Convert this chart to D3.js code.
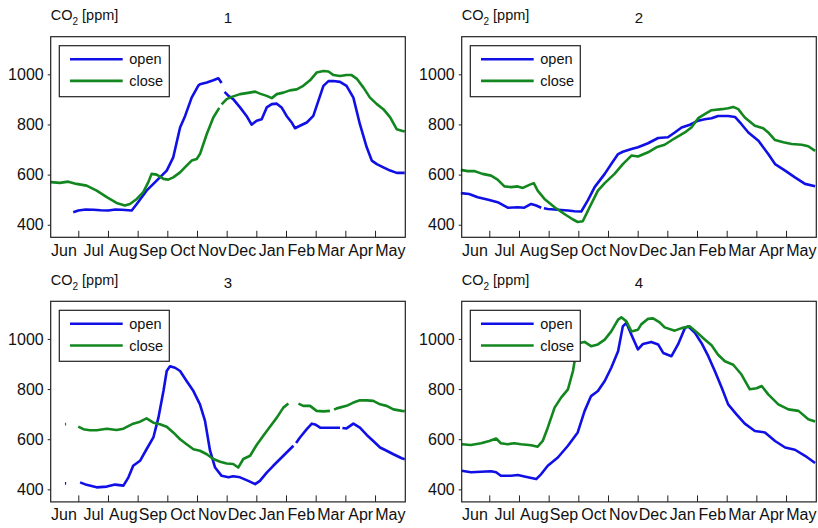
<!DOCTYPE html>
<html>
<head>
<meta charset="utf-8">
<script src="https://cdn.jsdelivr.net/npm/d3@7/dist/d3.min.js"></script>
<style>
  html, body { margin: 0; padding: 0; background: #fff; }
  svg { display: block; }
  text { font-family: "Liberation Sans", Arial, Helvetica, sans-serif; fill: #111; }
</style>
</head>
<body>
<svg id="chart" width="818" height="528"></svg>
<script>
// Months shown on the x axis (June .. May); x values below are months since 1 June.
const monthLabels = ["Jun", "Jul", "Aug", "Sep", "Oct", "Nov", "Dec", "Jan", "Feb", "Mar", "Apr", "May"];
const yTicks = [400, 600, 800, 1000];
const panelTitles = ["1", "2", "3", "4"];
const seriesNames = ["open", "close"];

// Room 1  ([month, ppm]; null marks a gap in the record)
const open1 = [[0.83,450],[1.0,457],[1.25,461],[1.51,460],[1.75,458],[2.01,457],[2.25,461],[2.46,460],[2.80,457],[2.97,483],[3.30,536],[3.64,576],[3.98,616],[4.20,669],[4.43,788],[4.60,834],[4.82,907],[5.04,954],[5.10,960],[5.33,967],[5.55,976],[5.72,984],[5.83,965],null,[5.93,930],[6.06,914],[6.22,901],[6.45,868],[6.67,834],[6.84,799],[7.01,815],[7.18,821],[7.35,868],[7.52,881],[7.69,883],[7.85,868],[8.02,834],[8.19,808],[8.30,785],[8.47,795],[8.70,808],[8.92,834],[9.09,894],[9.26,954],[9.43,973],[9.60,973],[9.82,970],[10.04,954],[10.27,907],[10.49,801],[10.72,709],[10.89,656],[11.06,642],[11.28,629],[11.51,616],[11.73,607],[12.0,607]];
const close1 = [[0.07,570],[0.38,567],[0.66,572],[0.94,563],[1.28,556],[1.62,536],[1.96,510],[2.29,487],[2.57,477],[2.74,483],[2.97,503],[3.19,530],[3.36,570],[3.47,603],[3.64,600],[3.87,583],[4.03,580],[4.20,589],[4.43,609],[4.65,636],[4.82,656],[4.99,662],[5.10,682],[5.33,762],[5.55,828],[5.75,866],null,[5.83,880],[6.00,901],[6.17,910],[6.45,921],[6.67,925],[6.96,931],[7.12,923],[7.35,914],[7.52,905],[7.69,921],[7.91,927],[8.13,936],[8.36,940],[8.58,954],[8.81,976],[9.03,1007],[9.26,1013],[9.43,1011],[9.60,997],[9.82,993],[10.04,997],[10.21,997],[10.38,983],[10.61,947],[10.83,907],[11.06,881],[11.28,861],[11.51,828],[11.73,781],[11.90,775],[12.0,772]];

// Room 2
const open2 = [[0.04,526],[0.32,523],[0.61,510],[1.0,499],[1.28,490],[1.62,468],[1.96,470],[2.18,468],[2.41,483],[2.58,477],[2.75,468],null,[2.84,466],[2.97,463],[3.31,460],[3.65,457],[3.87,454],[4.10,453],[4.32,497],[4.55,550],[4.89,603],[5.11,642],[5.34,682],[5.50,691],[5.79,702],[6.01,709],[6.35,725],[6.69,746],[7.02,749],[7.25,768],[7.48,788],[7.76,799],[8.04,815],[8.26,821],[8.49,825],[8.71,834],[9.05,834],[9.28,830],[9.50,801],[9.73,768],[10.07,735],[10.40,682],[10.63,642],[10.97,616],[11.30,589],[11.64,563],[11.98,554]];
const close2 = [[0.04,619],[0.27,614],[0.49,614],[0.77,603],[1.06,596],[1.28,580],[1.51,553],[1.73,550],[1.96,553],[2.13,547],[2.35,559],[2.50,566],[2.63,536],[2.86,503],[3.20,470],[3.53,443],[3.82,421],[3.98,411],[4.15,414],[4.38,470],[4.66,536],[4.89,566],[5.22,603],[5.50,642],[5.79,676],[6.01,672],[6.35,689],[6.63,709],[6.91,719],[7.25,745],[7.59,768],[7.81,788],[8.04,825],[8.26,841],[8.49,857],[8.83,861],[9.05,865],[9.22,870],[9.39,861],[9.61,828],[9.95,795],[10.23,785],[10.40,768],[10.63,738],[10.91,729],[11.19,722],[11.53,719],[11.75,713],[11.98,695]];

// Room 3
const open3 = [[0.55,424],[0.59,424],null,[1.06,428],[1.28,418],[1.62,408],[1.96,411],[2.24,419],[2.52,415],[2.69,448],[2.85,494],[3.08,514],[3.30,560],[3.53,607],[3.70,686],[3.87,792],[3.98,872],[4.09,891],[4.26,885],[4.43,872],[4.65,832],[4.88,792],[5.10,739],[5.27,673],[5.44,554],[5.61,487],[5.83,454],[6.06,448],[6.22,452],[6.45,448],[6.73,434],[6.96,421],[7.12,434],[7.35,467],[7.57,494],[7.80,521],[8.02,547],[8.25,574],null,[8.34,585],[8.47,607],[8.70,640],[8.87,662],[8.98,659],[9.15,646],[9.37,646],[9.60,646],[9.82,646],null,[9.90,645],[10.04,643],[10.27,662],[10.49,646],[10.72,617],[10.94,593],[11.17,567],[11.39,554],[11.62,540],[11.90,524],[12.0,520]];
const close3 = [[0.55,660],[0.59,660],null,[1.0,650],[1.17,640],[1.39,636],[1.62,636],[1.96,642],[2.29,637],[2.52,642],[2.85,662],[3.08,670],[3.30,683],[3.53,666],[3.75,660],[3.98,650],[4.20,627],[4.43,600],[4.65,580],[4.88,560],[5.10,554],[5.33,540],[5.55,521],[5.78,510],[6.00,503],[6.22,501],[6.39,487],[6.56,521],[6.79,534],[7.01,577],[7.24,615],[7.46,650],[7.69,686],[7.91,726],[8.08,742],null,[8.42,742],[8.58,733],[8.81,733],[9.03,713],[9.26,711],[9.48,713],null,[9.62,718],[9.71,723],[10.04,733],[10.27,746],[10.49,755],[10.72,755],[10.94,753],[11.17,739],[11.39,733],[11.62,719],[11.90,713],[12.0,712]];

// Room 4
const open4 = [[0.07,474],[0.38,468],[0.72,470],[1.06,472],[1.23,468],[1.39,454],[1.73,454],[1.96,457],[2.30,448],[2.58,441],[2.75,461],[2.97,494],[3.31,527],[3.65,574],[3.98,627],[4.21,712],[4.43,772],[4.66,792],[4.89,832],[5.11,885],[5.34,951],[5.50,1050],[5.62,1064],[5.79,1017],[6.01,958],[6.18,980],[6.46,988],[6.69,978],[6.86,944],[7.14,931],[7.36,978],[7.59,1043],[7.70,1050],[7.93,1024],[8.15,984],[8.38,931],[8.60,872],[8.83,806],[9.05,739],[9.33,699],[9.61,662],[9.95,633],[10.29,627],[10.63,593],[10.97,567],[11.30,558],[11.64,534],[11.98,505]];
const close4 = [[0.07,580],[0.38,577],[0.72,584],[1.0,593],[1.23,603],[1.39,584],[1.62,580],[1.84,584],[2.07,580],[2.41,576],[2.63,570],[2.80,593],[2.97,646],[3.20,726],[3.42,766],[3.65,799],[3.82,872],[3.93,951],[4.04,984],[4.21,988],[4.43,971],[4.66,978],[4.89,997],[5.11,1030],[5.34,1077],[5.45,1086],[5.62,1070],[5.79,1030],[6.01,1037],[6.12,1058],[6.35,1080],[6.52,1082],[6.74,1066],[6.91,1046],[7.25,1033],[7.48,1043],[7.76,1050],[7.98,1028],[8.26,998],[8.49,975],[8.71,937],[8.94,911],[9.22,897],[9.50,858],[9.78,799],[10.01,803],[10.18,812],[10.40,779],[10.74,739],[11.08,719],[11.42,713],[11.75,680],[11.98,671]];

const panels = [
  { title: panelTitles[0], open: open1, close: close1 },
  { title: panelTitles[1], open: open2, close: close2 },
  { title: panelTitles[2], open: open3, close: close3 },
  { title: panelTitles[3], open: open4, close: close4 }
];

const colors = { open: "#1010e6", close: "#13871f" };

const svg = d3.select("#chart");
const plotW = 354.6, plotH = 200.6;
const origins = [[50.7, 36.7], [461.7, 36.7], [50.7, 301.3], [461.7, 301.3]];

const x = d3.scaleLinear().domain([0.07, 12.02]).range([0, plotW]);
const y = d3.scaleLinear().domain([350, 1150]).range([plotH, 0]);

const line = d3.line()
  .defined(d => d !== null)
  .x(d => x(d[0]))
  .y(d => y(d[1]));

panels.forEach((p, i) => {
  const [ox, oy] = origins[i];
  const g = svg.append("g").attr("transform", `translate(${ox},${oy})`);

  // y label with subscript
  const yl = g.append("text")
    .attr("x", 0).attr("y", -16.5)
    .style("font-size", "14.5px");
  yl.append("tspan").text("CO");
  yl.append("tspan").attr("dy", 5).style("font-size", "10px").text("2");
  yl.append("tspan").attr("dy", -5).text(" [ppm]");

  // panel number
  g.append("text")
    .attr("x", plotW / 2).attr("y", -13.5)
    .attr("text-anchor", "middle")
    .style("font-size", "15px")
    .text(p.title);

  // data lines
  g.append("path").datum(p.open)
    .attr("d", line).attr("fill", "none")
    .attr("stroke", colors.open).attr("stroke-width", 2.6)
    .attr("stroke-linejoin", "round");
  g.append("path").datum(p.close)
    .attr("d", line).attr("fill", "none")
    .attr("stroke", colors.close).attr("stroke-width", 2.6)
    .attr("stroke-linejoin", "round");

  // frame
  g.append("rect")
    .attr("x", 0).attr("y", 0).attr("width", plotW).attr("height", plotH)
    .attr("fill", "none").attr("stroke", "#222").attr("stroke-width", 1.2);

  // y axis
  const yAxis = d3.axisLeft(y).tickValues(yTicks).tickSize(3).tickPadding(4).tickFormat(d3.format("d"));
  const ya = g.append("g").call(yAxis);
  ya.select(".domain").remove();
  ya.selectAll("line").attr("stroke", "#222");
  ya.selectAll("text").style("font-size", "16px").attr("fill", "#111");

  // x axis: inward ticks at month boundaries, labels centred in each month
  const xa = g.append("g").attr("transform", `translate(0,${plotH})`);
  xa.call(d3.axisBottom(x).tickValues(d3.range(1, 12)).tickSize(-6.5).tickFormat(""));
  xa.select(".domain").remove();
  xa.selectAll("line").attr("stroke", "#222");
  const xl = g.append("g").attr("transform", `translate(0,${plotH})`);
  xl.call(d3.axisBottom(x).tickValues(d3.range(12).map(k => k + 0.5))
    .tickSize(0).tickPadding(7).tickFormat((d, k) => monthLabels[k]));
  xl.select(".domain").remove();
  xl.selectAll("text").style("font-size", "16px").attr("fill", "#111");

  // legend
  const lg = g.append("g").attr("transform", "translate(8.6,9)");
  lg.append("rect").attr("width", 110).attr("height", 51)
    .attr("fill", "#fff").attr("stroke", "#222").attr("stroke-width", 1.2);
  seriesNames.forEach((name, k) => {
    const ly = 13.5 + k * 21.7;
    lg.append("line").attr("x1", 10.7).attr("x2", 63.4).attr("y1", ly).attr("y2", ly)
      .attr("stroke", colors[name]).attr("stroke-width", 2.6);
    lg.append("text").attr("x", 70).attr("y", ly + 5.3)
      .style("font-size", "14.5px").text(name);
  });
});
</script>
</body>
</html>
